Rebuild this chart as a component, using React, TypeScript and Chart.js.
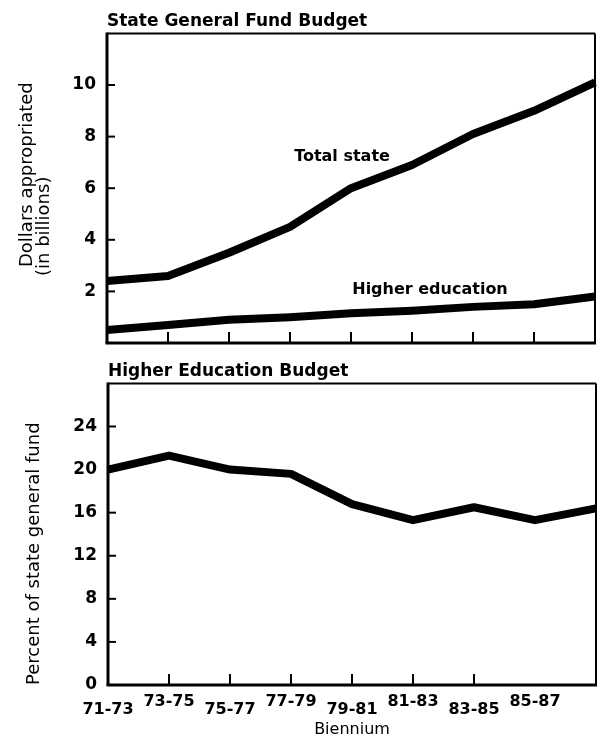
import React, { useEffect, useRef } from 'react';
import { Chart, registerables } from 'chart.js';

Chart.register(...registerables);

// ---- data ----
const biennia = ['71-73', '73-75', '75-77', '77-79', '79-81', '81-83', '83-85', '85-87', '87-89'];
const xTickLabels = ['71-73', '73-75', '75-77', '77-79', '79-81', '81-83', '83-85', '85-87', ''];
const totalState = [2.4, 2.6, 3.5, 4.5, 6.0, 6.9, 8.1, 9.0, 10.1];
const higherEducation = [0.5, 0.7, 0.9, 1.0, 1.15, 1.25, 1.4, 1.5, 1.8];
const percentOfFund = [20.0, 21.3, 20.0, 19.6, 16.8, 15.3, 16.5, 15.3, 16.4];
const dollarTicks = [2, 4, 6, 8, 10];
const percentTicks = [0, 4, 8, 12, 16, 20, 24];

const FONT = 'DejaVu Sans';
Chart.defaults.color = '#000';
Chart.defaults.font.family = FONT;

const frameAndTicks = {
  id: 'frameAndTicks',
  beforeDatasetsDraw(chart: any, _args: any, opts: any) {
    const { ctx, chartArea: a, scales } = chart;
    ctx.save();
    ctx.strokeStyle = '#000';
    const seg = (x1: number, y1: number, x2: number, y2: number, w: number) => {
      ctx.lineWidth = w;
      ctx.beginPath();
      ctx.moveTo(x1, y1);
      ctx.lineTo(x2, y2);
      ctx.stroke();
    };
    seg(a.left, a.top, a.right, a.top, 2);
    seg(a.right, a.top, a.right, a.bottom, 2);
    seg(a.left - 1.5, a.bottom, a.right + 1, a.bottom, 3);
    seg(a.left, a.top - 1, a.left, a.bottom, 3);
    const xs = scales.x;
    for (let i = 1; i < xs.ticks.length - 1; i++) {
      const px = xs.getPixelForTick(i);
      seg(px, a.bottom, px, a.bottom - opts.xLen, 2);
    }
    const ys = scales.y;
    ys.ticks.forEach((t: any, i: number) => {
      if (opts.yTicks.includes(t.value) && t.value > ys.min) {
        const py = ys.getPixelForTick(i);
        seg(a.left, py, a.left + opts.yLen, py, 2);
      }
    });
    ctx.restore();
  },
};

const freeText = {
  id: 'freeText',
  afterDraw(chart: any, _args: any, opts: any) {
    const { ctx } = chart;
    for (const it of opts.items || []) {
      ctx.save();
      ctx.fillStyle = '#000';
      ctx.font = `${it.weight || 'normal'} ${it.size}px "${FONT}"`;
      ctx.textBaseline = 'middle';
      ctx.textAlign = it.align || 'center';
      ctx.translate(it.x, it.y);
      if (it.rotate) ctx.rotate(it.rotate);
      ctx.fillText(it.text, 0, 0);
      ctx.restore();
    }
  },
};

const fixY = (w: number) => (s: any) => {
  s.width = w;
  s.paddingTop = 0;
  s.paddingBottom = 0;
};
const fixX = (h: number) => (s: any) => {
  s.height = h;
  s.paddingLeft = 0;
  s.paddingRight = 0;
};

function TopChart() {
  const ref = useRef<HTMLCanvasElement>(null);
  useEffect(() => {
    const chart = new Chart(ref.current!, {
      type: 'line',
      data: {
        labels: biennia,
        datasets: [
          { label: 'Total state', data: totalState, borderColor: '#000', borderWidth: 8, pointRadius: 0, tension: 0, borderJoinStyle: 'round' },
          { label: 'Higher education', data: higherEducation, borderColor: '#000', borderWidth: 8, pointRadius: 0, tension: 0, borderJoinStyle: 'round' },
        ],
      },
      options: {
        responsive: false,
        animation: false,
        events: [],
        layout: { autoPadding: false, padding: { left: 0, right: 2, top: 0, bottom: 0 } },
        plugins: {
          legend: { display: false },
          tooltip: { enabled: false },
          title: {
            display: true,
            text: 'State General Fund Budget',
            align: 'start',
            fullSize: false,
            color: '#000',
            font: { family: FONT, size: 17, weight: 'bold' },
            padding: { top: 11, bottom: 2 },
          },
          frameAndTicks: { xLen: 11, yLen: 8, yTicks: dollarTicks },
          freeText: {
            items: [
              { text: 'Dollars appropriated', x: 27, y: 267, size: 18, rotate: -Math.PI / 2, align: 'left' },
              { text: '(in billions)', x: 44, y: 276, size: 18, rotate: -Math.PI / 2, align: 'left' },
              { text: 'Total state', x: 342, y: 157, size: 16, weight: 'bold' },
              { text: 'Higher education', x: 430, y: 290, size: 16, weight: 'bold' },
            ],
          },
        } as any,
        scales: {
          x: {
            type: 'category',
            afterFit: fixX(7),
            ticks: { display: false },
            grid: { display: false, drawTicks: false },
            border: { display: false },
          },
          y: {
            min: 0,
            max: 12,
            afterFit: fixY(107),
            ticks: {
              stepSize: 2,
              padding: 11,
              color: '#000',
              font: { family: FONT, size: 17, weight: 'bold' },
              callback: (v: any) => (dollarTicks.includes(v) ? String(v) : null),
            },
            grid: { display: false, drawTicks: false },
            border: { display: false },
          },
        },
      },
      plugins: [frameAndTicks, freeText],
    });
    return () => chart.destroy();
  }, []);
  return <canvas ref={ref} width={597} height={350} style={{ display: 'block' }} />;
}

function BottomChart() {
  const ref = useRef<HTMLCanvasElement>(null);
  useEffect(() => {
    const chart = new Chart(ref.current!, {
      type: 'line',
      data: {
        labels: biennia,
        datasets: [
          { label: 'Percent of state general fund', data: percentOfFund, borderColor: '#000', borderWidth: 8, pointRadius: 0, tension: 0, borderJoinStyle: 'round' },
        ],
      },
      options: {
        responsive: false,
        animation: false,
        events: [],
        layout: { autoPadding: false, padding: { left: 0, right: 1, top: 0, bottom: 0 } },
        plugins: {
          legend: { display: false },
          tooltip: { enabled: false },
          title: {
            display: true,
            text: 'Higher Education Budget',
            align: 'start',
            fullSize: false,
            color: '#000',
            font: { family: FONT, size: 17, weight: 'bold' },
            padding: { top: 11, bottom: 2 },
          },
          frameAndTicks: { xLen: 11, yLen: 8, yTicks: percentTicks },
        } as any,
        scales: {
          x: {
            type: 'category',
            afterFit: fixX(53),
            ticks: {
              autoSkip: false,
              maxRotation: 0,
              minRotation: 0,
              padding: 13,
              color: '#000',
              font: { family: FONT, size: 16, weight: 'bold', lineHeight: 0.5 },
              callback: (_v: any, i: number) => {
                const t = xTickLabels[i];
                if (!t) return null;
                return i % 2 === 1 ? [t] : ['', t];
              },
            },
            grid: { display: false, drawTicks: false },
            border: { display: false },
            title: {
              display: true,
              text: 'Biennium',
              color: '#000',
              font: { family: FONT, size: 16 },
              padding: { top: 6, bottom: -1 },
            },
          },
          y: {
            min: 0,
            max: 28,
            afterFit: fixY(108),
            ticks: {
              stepSize: 4,
              padding: 11,
              color: '#000',
              font: { family: FONT, size: 17, weight: 'bold' },
              callback: (v: any) => (percentTicks.includes(v) ? String(v) : null),
            },
            grid: { display: false, drawTicks: false },
            border: { display: false },
            title: {
              display: true,
              text: 'Percent of state general fund',
              align: 'start',
              color: '#000',
              font: { family: FONT, size: 18 },
              padding: { top: 24, bottom: 0 },
            },
          },
        },
      },
      plugins: [frameAndTicks],
    });
    return () => chart.destroy();
  }, []);
  return <canvas ref={ref} width={597} height={388} style={{ display: 'block' }} />;
}

export default function App() {
  return (
    <div style={{ position: 'absolute', left: 0, top: 0, width: 597, height: 738, background: '#fff' }}>
      <TopChart />
      <BottomChart />
    </div>
  );
}
